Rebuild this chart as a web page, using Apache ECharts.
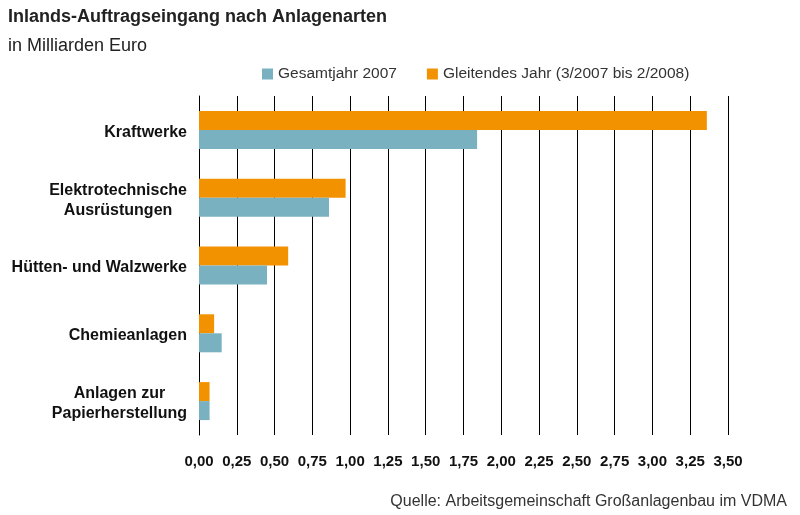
<!DOCTYPE html>
<html>
<head>
<meta charset="utf-8">
<script src="https://cdn.jsdelivr.net/npm/echarts@6/dist/echarts.min.js"></script>
<style>
  html, body { margin: 0; padding: 0; background: #fff; }
  #chart { width: 800px; height: 515px; }
</style>
</head>
<body>
<div id="chart"></div>
<script>
// Daten (Mrd. Euro)
var kategorien = ['Kraftwerke', 'Elektrotechnische\nAusrüstungen', 'Hütten- und Walzwerke', 'Chemieanlagen', 'Anlagen zur\nPapierherstellung'];
var gesamtjahr = [1.84, 0.86, 0.45, 0.15, 0.07];
var gleitend = [3.36, 0.97, 0.59, 0.10, 0.07];
var serienNamen = ['Gesamtjahr 2007', 'Gleitendes Jahr (3/2007 bis 2/2008)'];

var chart = echarts.init(document.getElementById('chart'));
var schrift = 'Liberation Sans, Arial, sans-serif';

chart.setOption({
    animation: false,
    textStyle: { fontFamily: schrift },
    title: [
        { text: 'Inlands-Auftragseingang nach Anlagenarten', left: 3, top: 3,
          textStyle: { fontSize: 18, fontWeight: 'bold', color: '#222', fontFamily: schrift } },
        { text: 'in Milliarden Euro', left: 3, top: 32,
          textStyle: { fontSize: 18, fontWeight: 'normal', color: '#222', fontFamily: schrift } },
        { text: 'Quelle: Arbeitsgemeinschaft Großanlagenbau im VDMA', right: 8, top: 489,
          textStyle: { fontSize: 16, fontWeight: 'normal', color: '#333', fontFamily: schrift } }
    ],
    legend: {
        data: serienNamen,
        left: 257, top: 61,
        itemWidth: 11, itemHeight: 11, itemGap: 30,
        icon: 'rect',
        textStyle: { fontSize: 15.5, color: '#333', fontFamily: schrift }
    },
    grid: { left: 199, right: 72, top: 96, bottom: 80 },
    xAxis: {
        type: 'value', min: 0, max: 3.5, interval: 0.25,
        axisLine: { show: false },
        axisTick: { show: false },
        splitLine: { show: true, lineStyle: { color: '#000', width: 1 } },
        axisLabel: {
            margin: 19, fontSize: 15, fontWeight: 'bold', color: '#111',
            formatter: function (v) { return v.toFixed(2).replace('.', ','); }
        }
    },
    yAxis: {
        type: 'category', data: kategorien, inverse: true,
        axisLine: { show: true, lineStyle: { color: '#000', width: 1 } },
        axisTick: { show: false },
        axisLabel: {
            margin: 12, fontSize: 16, fontWeight: 'bold', color: '#111', lineHeight: 20,
            padding: [5, 0, 0, 0],
            formatter: function (v) {
                return v.split('\n').map(function (z) { return '{c|' + z + '}'; }).join('\n');
            },
            rich: { c: { align: 'center', fontSize: 16, fontWeight: 'bold', color: '#111', lineHeight: 20 } }
        }
    },
    series: [
        { name: serienNamen[1], type: 'bar', data: gleitend, barWidth: 19, barGap: '0%',
          itemStyle: { color: '#f39200' } },
        { name: serienNamen[0], type: 'bar', data: gesamtjahr, barWidth: 19, barGap: '0%',
          itemStyle: { color: '#79b1c1' } }
    ]
});
</script>
</body>
</html>
